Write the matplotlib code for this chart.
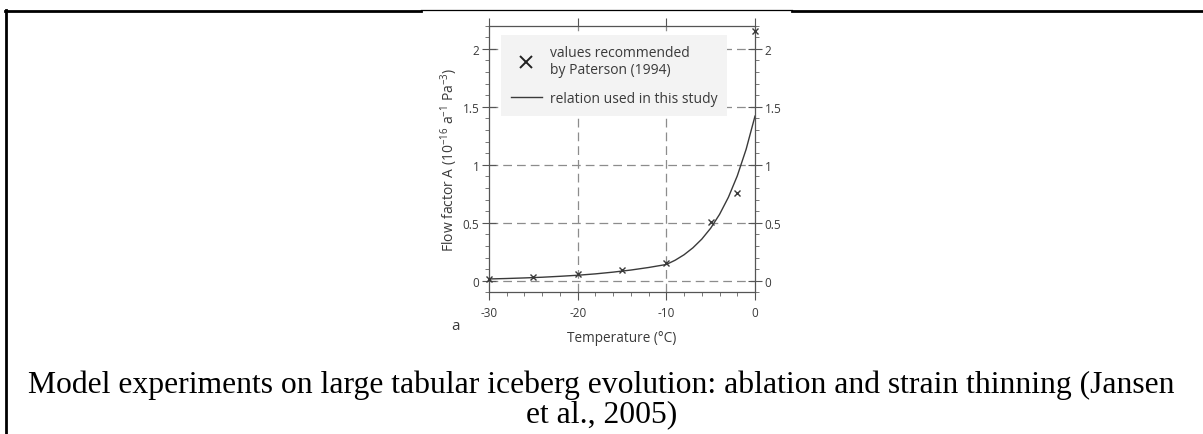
import matplotlib
matplotlib.use("Agg")
import matplotlib.pyplot as plt
from matplotlib.lines import Line2D
from matplotlib.ticker import MultipleLocator

# Paterson (1994) recommended flow factors, 10^-16 a^-1 Pa^-3
paterson_temp = [-30, -25, -20, -15, -10, -5, -2, 0]
paterson_A = [0.016, 0.030, 0.054, 0.092, 0.155, 0.505, 0.757, 2.15]

# Flow factor relation used in the study
relation_temp = [-30, -28, -26, -24, -22, -20, -18, -16, -14, -12, -10,
                 -9, -8, -7, -6, -5, -4, -3, -2, -1, 0]
relation_A = [0.015, 0.019, 0.024, 0.030, 0.038, 0.047, 0.059, 0.074,
              0.092, 0.114, 0.140, 0.177, 0.224, 0.284, 0.359, 0.453,
              0.572, 0.720, 0.904, 1.134, 1.42]

x_ticks = [-30, -20, -10, 0]
y_ticks = [0, 0.5, 1, 1.5, 2]
y_tick_labels = ["0", "0.5", "1", "1.5", "2"]

caption_lines = ["Model experiments on large tabular iceberg evolution: ablation and strain thinning (Jansen",
                 "et al., 2005)"]

font = "Open Sans"
plt.rcParams["mathtext.fontset"] = "custom"
plt.rcParams["mathtext.rm"] = font
plt.rcParams["mathtext.it"] = font
plt.rcParams["mathtext.default"] = "rm"

ink = "#3a3a3a"
grid_col = "#8c8c8c"

fig = plt.figure(figsize=(12.03, 4.35), dpi=100)
fig.patch.set_facecolor("white")

# Document frame around the figure
W, H = 1203, 435
def fx(px):
    return px / W
def fy(py):
    return 1 - py / H
fig.add_artist(Line2D([fx(6), fx(6)], [fy(11), 0], color="black", lw=2.0))
fig.add_artist(Line2D([fx(5), fx(421)], [fy(11.5), fy(11.5)], color="black", lw=2.0))
fig.add_artist(Line2D([fx(421), fx(792)], [fy(11), fy(11)], color="black", lw=0.9))
fig.add_artist(Line2D([fx(792), 1], [fy(11.5), fy(11.5)], color="black", lw=2.0))

ax = fig.add_axes([489 / W, 1 - 293.3 / H, (755 - 489) / W, (293.3 - 26.7) / H])
ax.set_xlim(-30, 0)
ax.set_ylim(-0.1, 2.2)

for xv in [-20, -10]:
    ax.axvline(xv, color=grid_col, lw=0.9, dashes=(7, 4), zorder=1)
for yv in y_ticks:
    ax.axhline(yv, color=grid_col, lw=0.9, dashes=(7, 4), zorder=1)

curve, = ax.plot(relation_temp, relation_A, color=ink, lw=1.0, zorder=3)
pts, = ax.plot(paterson_temp, paterson_A, linestyle="none", marker="x",
               markersize=4.5, markeredgewidth=1.0, color=ink, zorder=4,
               clip_on=False)

for s in ax.spines.values():
    s.set_color("#555555")
    s.set_linewidth(0.9)

ax.set_xticks(x_ticks)
ax.set_xticklabels([str(v) for v in x_ticks], fontsize=8.5, color=ink, family=font)
ax.xaxis.set_minor_locator(MultipleLocator(2))
ax.set_yticks(y_ticks)
ax.set_yticklabels(y_tick_labels, fontsize=8.5, color=ink, family=font)
ax.yaxis.set_minor_locator(MultipleLocator(0.1))
ax.tick_params(axis="y", which="major", direction="inout", length=10, width=0.8,
               color="#555555", left=True, right=True, labelleft=True,
               labelright=True, pad=2)
ax.tick_params(axis="y", which="minor", direction="out", length=3, width=0.7,
               color="#777777", left=True, right=True)
ax.tick_params(axis="x", which="major", direction="out", length=6, width=0.8,
               color="#555555", top=True, bottom=True, pad=4)
ax.tick_params(axis="x", which="minor", direction="out", length=3, width=0.7,
               color="#777777", bottom=True)

ax.set_xlabel("Temperature (°C)", fontsize=9.8, color=ink, family=font, labelpad=8)
ax.set_ylabel("Flow factor A (10$^{-16}$ a$^{-1}$ Pa$^{-3}$)", fontsize=10,
              color=ink, family=font, labelpad=2)

ax.text(455 / W, 1 - 327 / H, "a", transform=fig.transFigure, fontsize=11,
        color=ink, family=font, ha="center", va="center")

leg_marker = Line2D([], [], linestyle="none", marker="x", markersize=8,
                    markeredgewidth=1.4, color="#222222")
leg = ax.legend([leg_marker, curve],
                ["values recommended\nby Paterson (1994)", "relation used in this study"],
                loc="upper left", bbox_to_anchor=(0.02, 0.99), frameon=True,
                facecolor="#f3f3f3", edgecolor="none", framealpha=1.0,
                prop={"family": font, "size": 10}, handlelength=2.2,
                handletextpad=0.6, labelspacing=1.0, borderpad=0.7, fancybox=False)
for t in leg.get_texts():
    t.set_color(ink)
leg.set_zorder(2)

fig.text(0.5, fy(385), caption_lines[0], ha="center", va="center", fontsize=22.8,
         family="Liberation Serif", color="black")
fig.text(0.5, fy(415), caption_lines[1], ha="center", va="center", fontsize=22.8,
         family="Liberation Serif", color="black")

fig.savefig("out.png", dpi=100, facecolor="white")
